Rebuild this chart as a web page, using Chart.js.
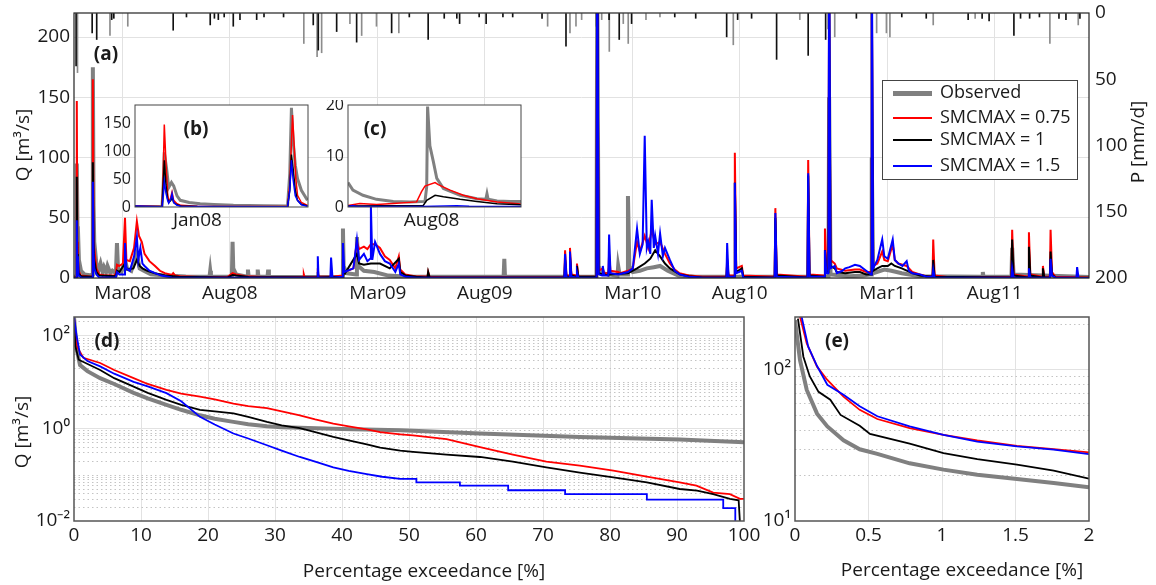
<!DOCTYPE html>
<html>
<head>
<meta charset="utf-8">
<script src="https://cdn.jsdelivr.net/npm/chart.js@4.4.0/dist/chart.umd.min.js"></script>
<style>
    body { margin: 0; width: 1156px; height: 585px; position: relative; overflow: hidden; background: #fff;
           font-family: 'Open Sans', sans-serif; color: #1a1a1a; }
    canvas { position: absolute; }
    .txt { position: absolute; white-space: nowrap; font-size: 19px; transform: translate(-50%, -50%); }
    .rot { transform: translate(-50%, -50%) rotate(-90deg); }
    .tag { font-weight: bold; }
    #legend { position: absolute; left: 882px; top: 80px; width: 194px; height: 98px; border: 1px solid #444; background: #fff; }
    #legend .row { position: absolute; left: 10px; height: 24px; font-size: 18px; line-height: 24px; }
    #legend .swatch { display: inline-block; width: 39px; vertical-align: middle; margin-right: 8px; }
</style>
</head>
<body>
<canvas id="cA" width="1156" height="305" style="left:0;top:0"></canvas>
<canvas id="cB" width="220" height="140" style="left:95px;top:100px"></canvas>
<canvas id="cC" width="225" height="140" style="left:305px;top:100px"></canvas>
<canvas id="cD" width="775" height="280" style="left:0;top:305px"></canvas>
<canvas id="cE" width="401" height="280" style="left:755px;top:305px"></canvas>

<div class="txt rot" style="left:22px;top:145px">Q [m³/s]</div>
<div class="txt rot" style="left:1137px;top:142px">P [mm/d]</div>
<div class="txt rot" style="left:21px;top:432px">Q [m³/s]</div>
<div class="txt" style="left:424px;top:570px">Percentage exceedance [%]</div>
<div class="txt" style="left:962px;top:569px">Percentage exceedance [%]</div>
<div class="txt tag" style="left:106px;top:53px">(a)</div>
<div class="txt tag" style="left:196px;top:128px">(b)</div>
<div class="txt tag" style="left:375px;top:128px">(c)</div>
<div class="txt tag" style="left:107px;top:340px">(d)</div>
<div class="txt tag" style="left:837px;top:340px">(e)</div>

<div id="legend">
    <div class="row" style="top:-2px"><span class="swatch" style="height:5px;background:#808080"></span>Observed</div>
    <div class="row" style="top:23px"><span class="swatch" style="height:2px;background:#ff0000"></span>SMCMAX = 0.75</div>
    <div class="row" style="top:45px"><span class="swatch" style="height:2px;background:#000"></span>SMCMAX = 1</div>
    <div class="row" style="top:71px"><span class="swatch" style="height:2px;background:#0000ff"></span>SMCMAX = 1.5</div>
</div>

<script>
// time axis: days since 1 Jan 2008
const monthTickDays = [60, 213, 425, 578, 790, 943, 1155, 1308];
const monthTickLabels = ['Mar08', 'Aug08', 'Mar09', 'Aug09', 'Mar10', 'Aug10', 'Mar11', 'Aug11'];
const qTicks = [0, 50, 100, 150, 200];
const pTicks = [0, 50, 100, 150, 200];

// (a) discharge [day, m3/s]
const flowObs = [[-10,1],[-7,1],[-6,95],[-5,40],[-4.5,43],[-3,15],[0,6],[5,3],[15,2],[16,3],[17,175],[18,60],[19,30],[22,12],[25,6],[28,12],[31,5],[33,9],[36,5],[38,10],[42,4],[45,6],[50,4],[51.5,29],[53,8],[58,5],[63,15],[66,8],[72,6],[80,20],[84,8],[90,6],[100,3],[120,2],[150,1.2],[184,1],[185,6],[186,1],[216,1],[217,30],[218,8],[222,3],[238,1],[239,7],[240,1],[252,1],[253,7],[254,1],[267,1],[268,7],[269,1],[300,0.8],[374,0.8],[375,41],[376,10],[380,4],[394,3],[395,34],[397,10],[405,6],[420,5],[440,2],[470,1],[605,1],[606,16],[607,1],[738,1],[739,250],[741,10],[745,4],[768,2],[769,10],[771,3],[782,3],[783,68],[785,10],[790,5],[800,6],[810,8],[820,9],[829,10],[840,6],[855,2],[880,1],[1070,1],[1071,150],[1073,3],[1100,1.5],[1120,2],[1131,3],[1132,100],[1134,4],[1150,7],[1160,6],[1175,4],[1200,1.5],[1290,1],[1291,5],[1292,1],[1332,1],[1333,25],[1335,3],[1443,0.8]];
const flow075 = [[-10,0.5],[-7,0.5],[-6,147],[-5.3,30],[-4.8,10],[-4.5,25],[-3.5,6],[0,2],[15,1],[16,1.5],[17,165],[18,40],[19,25],[22,8],[26,3],[35,2],[48,2],[50,4],[51.5,11],[55,10],[60,12],[63,50],[65,15],[70,14],[76,25],[80,47],[83,35],[87,30],[91,20],[98,14],[106,10],[113,6],[120,4],[130,2.5],[132,4],[135,2],[142,1.5],[170,0.8],[210,1],[217,4],[222,3],[235,1.5],[260,0.8],[318,0.8],[319,3],[320,0.8],[338,0.8],[339,8],[340,1],[357,1],[358,3],[360,1],[374,2],[375,15],[377,5],[390,8],[395,30],[398,24],[405,26],[410,24],[415,28],[421,28],[428,25],[435,18],[442,15],[450,8],[455,18],[457,7],[464,3],[478,1.5],[496,1],[497,5],[499,1],[520,0.6],[692,0.6],[693,23],[695,2],[699,2],[700,25],[702,3],[709,2],[710,12],[712,1],[738,1],[739,300],[741,6],[747,8],[749,4],[755,4],[756,20],[758,6],[769,5],[772,4],[783,6],[790,8],[796,30],[800,22],[807,35],[812,25],[817,40],[822,28],[829,30],[836,20],[843,12],[850,7],[857,4],[870,2],[890,1],[924,1],[925,16],[927,2],[935,2],[936,104],[938,8],[946,10],[948,2],[993,1],[994,58],[996,3],[1040,1],[1041,98],[1043,3],[1064,2],[1065,41],[1067,8],[1070,8],[1071,260],[1073,15],[1079,12],[1082,8],[1094,6],[1108,7],[1115,7],[1124,5],[1131,5],[1132,260],[1134,10],[1140,12],[1147,22],[1150,15],[1155,14],[1162,28],[1165,15],[1170,12],[1182,10],[1190,5],[1201,3],[1210,1.5],[1219,1.5],[1220,32],[1222,2],[1240,0.8],[1332,0.8],[1333,40],[1335,3],[1356,1],[1357,38],[1359,3],[1376,1],[1377,10],[1379,1],[1387,1],[1388,40],[1390,5],[1395,1],[1443,0.5]];
const flow100 = [[-10,0.3],[-7,0.3],[-6,84],[-5.3,20],[-4.5,18],[-3.5,4],[0,1.5],[15,1],[16,1],[17,96],[18,30],[19,15],[22,5],[26,2],[50,1.5],[51.5,6],[55,5],[63,12],[66,7],[75,8],[80,15],[84,10],[88,8],[95,6],[106,4],[120,2],[140,1],[210,0.5],[217,2.4],[222,2],[240,0.8],[338,0.5],[339,5],[340,0.5],[374,1],[375,10],[378,4],[395,20],[398,12],[405,11],[415,12],[428,12],[442,8],[455,16],[457,5],[465,2],[480,1],[496,0.5],[497,5],[499,0.5],[692,0.5],[693,15],[695,1],[699,1],[700,18],[702,2],[709,1],[710,10],[712,1],[738,1],[739,300],[741,4],[755,2],[756,10],[758,3],[783,4],[796,8],[807,12],[815,16],[822,23],[829,18],[836,12],[843,8],[857,3],[870,1.5],[890,0.5],[924,0.5],[925,12],[927,1],[935,1],[936,79],[938,5],[946,8],[948,1],[993,0.5],[994,50],[996,2],[1040,0.5],[1041,85],[1043,2],[1064,1],[1065,23],[1067,5],[1070,5],[1071,240],[1073,10],[1079,8],[1082,5],[1094,4],[1108,5],[1115,5],[1124,3],[1131,3],[1132,250],[1134,6],[1140,8],[1147,10],[1155,10],[1160,12],[1165,10],[1175,8],[1190,4],[1201,2],[1219,1],[1220,15],[1222,1],[1332,0.5],[1333,32],[1335,2],[1356,0.5],[1357,26],[1359,2],[1376,0.5],[1377,8],[1379,0.5],[1387,0.5],[1388,22],[1390,3],[1395,0.5],[1443,0.3]];
const flow150 = [[-10,0.1],[-7,0.1],[-6,48],[-5.3,10],[-4.5,18],[-3.5,2],[0,0.5],[16,0.3],[17,80],[18,20],[19,8],[22,3],[26,0.5],[50,0.5],[51.5,5],[55,3],[62,3],[63,29],[65,8],[70,6],[76,18],[80,34],[82,15],[85,25],[88,12],[91,10],[98,6],[106,4],[115,2],[130,0.5],[338,0.2],[339,18],[340,0.3],[357,0.3],[358,17],[360,0.3],[374,1],[375,29],[377,5],[390,8],[395,32],[398,15],[405,20],[410,14],[414,16],[415,60],[417,15],[421,30],[428,20],[435,14],[442,12],[450,5],[455,12],[457,3],[465,1],[480,0.3],[692,0.2],[693,20],[695,0.5],[699,0.5],[700,22],[702,1],[709,0.5],[710,5],[712,0.3],[738,0.3],[739,300],[741,3],[746,2],[747,10],[749,2],[755,2],[756,36],[758,4],[769,3],[783,5],[790,8],[796,41],[800,20],[804,28],[807,118],[810,25],[812,30],[815,20],[817,65],[820,25],[822,35],[826,20],[829,37],[833,18],[836,25],[843,15],[850,6],[857,3],[870,1],[890,0.2],[924,0.2],[925,29],[927,1],[935,1],[936,79],[938,4],[946,6],[948,0.5],[993,0.3],[994,54],[996,1],[1040,0.3],[1041,87],[1043,1],[1064,1],[1065,23],[1067,4],[1070,4],[1071,300],[1073,8],[1079,10],[1082,4],[1090,6],[1094,8],[1100,9],[1108,11],[1115,10],[1124,6],[1131,3],[1132,300],[1134,8],[1140,15],[1147,32],[1150,18],[1155,16],[1162,32],[1165,15],[1170,12],[1176,10],[1182,14],[1185,6],[1190,4],[1201,3],[1210,1],[1219,1],[1220,7],[1222,0.5],[1332,0.3],[1333,8],[1335,0.5],[1356,0.3],[1357,8],[1359,0.5],[1387,0.3],[1388,16],[1390,2],[1395,0.3],[1425,0.2],[1426,9],[1428,0.2],[1443,0.1]];

// (a) precipitation [day, mm/d]
const precipBlack = [[-7,40],[16,15],[22.5,20],[44,5],[47,4],[132,13],[151,3],[185,9],[191,4],[196.6,5],[205,3],[218,10],[227.6,5],[251.5,5],[262,3],[290,3],[332.5,9],[339.7,28],[366,14],[394.6,22],[444.7,15],[470,3],[497,20],[520,4],[538,4],[542,8],[570,3],[580,8],[604,3],[618,3],[660,4],[694.3,25],[737,10],[756,5],[770.5,20],[788.2,8],[850,3],[880,4],[924.3,18],[940,5],[960,4],[995.8,35],[1041,32],[1066,20],[1070,12],[1110,4],[1175,3],[1210,4],[1270,5],[1290,4],[1300,6],[1335.5,17],[1345,4],[1358,4],[1372,3],[1400,4],[1410,5],[1430,4]];
const precipGray = [[-5,45],[41.5,17],[67,10],[319,23],[338,33],[344.5,30],[385,8],[401.8,17],[423,10],[455,15],[668,10],[700,15],[708.6,10],[716.7,5],[745.4,5],[756.3,29],[776.3,8],[783.4,23],[808.8,5],[828.8,3],[933.8,24],[1029,5],[1079,18],[1139,15],[1153,15],[1158,18],[1220,9],[1280,4],[1387,23],[1427.6,9]];

// (b) inset around Jan08
const janObs = [[-11.3,1],[-6.4,1],[-6.2,40],[-6.0,98],[-5.6,70],[-5.2,35],[-4.7,44],[-4.3,38],[-3.7,20],[-3.1,12],[-1.5,8],[0.5,6],[3,4.5],[6.5,3],[12,2.2],[16.3,2],[16.7,60],[17.0,178],[17.3,120],[17.7,75],[18.1,51],[18.8,30],[19.9,12]];
const jan075 = [[-11.3,2],[-6.4,1],[-6.2,60],[-6.0,148],[-5.7,80],[-5.4,25],[-5.2,9],[-4.9,15],[-4.6,27],[-4.3,12],[-3.7,6],[-3,3],[0,1.5],[8,1],[16.3,1],[16.7,40],[17.2,165],[17.5,110],[17.8,50],[18.1,21],[18.8,8],[19.9,3]];
const jan100 = [[-11.3,1],[-6.4,0.5],[-6.2,40],[-6.0,84],[-5.7,40],[-5.4,15],[-5.2,8],[-4.8,12],[-4.6,18],[-4.3,8],[-3.7,4],[-3,2],[0,1],[16.3,0.5],[16.7,30],[17.0,94],[17.3,70],[17.7,30],[18.1,12],[18.8,5],[19.9,2]];
const jan150 = [[-11.3,2],[-6.4,0.5],[-6.2,20],[-6.0,46],[-5.7,25],[-5.4,12],[-5.2,7],[-4.8,15],[-4.6,24],[-4.3,8],[-3.7,3],[-3,1.5],[0,0.8],[16.3,0.5],[16.7,30],[17.0,84],[17.3,50],[17.7,20],[18.1,12],[18.8,4],[19.9,1.5]];

// (c) inset around Aug08
const augObs = [[184,4.8],[185.7,3.3],[189.2,2.3],[193.9,1.5],[199.7,1.1],[205.5,1.0],[210.7,1.1],[211.3,4],[211.6,19.7],[212.4,12],[213.6,8.9],[214.8,5.6],[217.1,3.6],[222.9,2.3],[228.7,1.6],[231.8,1.5],[232.2,2.6],[232.6,1.5],[235.7,1.2],[240.3,1.1],[244,1.1]];
const aug075 = [[184,0.3],[188.1,0.7],[193.9,0.5],[199.7,0.7],[207.8,1.0],[209.5,3.0],[210.7,4.1],[214.2,4.8],[215.3,4.4],[219.4,3.3],[224,2.3],[228.7,1.6],[235.7,1.0],[244,0.6]];
const aug100 = [[184,0.2],[210.1,0.3],[211.3,1.3],[214.2,2.3],[217.1,2.0],[222.9,1.5],[228.7,1.1],[235.7,0.66],[244,0.46]];
const aug150 = [[184,0.1],[185.7,0.3],[186.9,0.1],[210,0.1],[221.7,0.26],[226,0.15],[244,0.1]];

// (d) flow duration curves [% exceedance, m3/s]
const fdcObs = [[0,250],[0.4,50],[0.9,23],[2,17],[3.9,12],[6,9],[8.9,5.8],[11,4.4],[13.8,3.2],[16,2.5],[18.8,1.9],[21,1.6],[23.8,1.37],[26,1.22],[28.8,1.1],[31,1.05],[33.7,1.02],[40,0.96],[48.7,0.91],[60.6,0.77],[75.5,0.65],[90.4,0.57],[100,0.5]];
const fdc075 = [[0,250],[0.4,59],[1.4,33],[3.9,25.5],[6,18],[8.9,12],[11,9],[13.8,6.7],[16,5.6],[18.8,4.8],[21,4.2],[23.8,3.4],[26,3.0],[28.8,2.7],[31,2.3],[33.7,1.9],[36,1.55],[38.7,1.26],[41,1.1],[43.7,0.95],[45.7,0.82],[48.7,0.74],[50.6,0.7],[55.6,0.58],[60.6,0.39],[65.5,0.27],[70.5,0.19],[75.5,0.157],[80.5,0.122],[85.5,0.091],[90.4,0.068],[92.9,0.058],[95.4,0.041],[97.9,0.038],[99.4,0.030],[100,0.030]];
const fdc100 = [[0,250],[0.2,59],[0.7,30],[3.9,18],[6,12],[8.9,7.9],[11,5.8],[13.8,4.1],[16,3.2],[18.8,2.5],[21,2.3],[23.8,2.1],[26,1.75],[28.8,1.37],[31,1.15],[33.7,1.0],[36,0.82],[38.7,0.65],[41,0.55],[43.7,0.45],[45.7,0.38],[48.7,0.33],[50.6,0.31],[55.6,0.27],[60.6,0.24],[65.5,0.19],[70.5,0.144],[75.5,0.11],[80.5,0.087],[85.5,0.068],[90.4,0.049],[93,0.045],[95.4,0.038],[97.9,0.030],[99.2,0.028],[99.4,0.009],[100,0.009]];
const fdc150 = [[0,250],[0.4,96],[0.9,39],[2,28],[3.9,21.5],[6,15],[8.9,10],[11,8],[13.8,5.7],[16,3.8],[18.8,1.76],[21,1.2],[23.8,0.77],[26,0.6],[28.8,0.43],[31,0.33],[33.7,0.24],[36,0.19],[38.7,0.144],[41,0.12],[43.7,0.103],[46,0.09],[48.7,0.081],[51.1,0.081],[51.1,0.068],[57.6,0.068],[57.6,0.058],[64.8,0.058],[64.8,0.046],[73.3,0.046],[73.3,0.038],[85.5,0.038],[85.5,0.029],[96.9,0.029],[96.9,0.019],[98.7,0.019],[98.7,0.009],[100,0.009]];

// (e) high-flow part of the curves
const highObs = [[0,210],[0.034,115],[0.08,73],[0.15,51],[0.22,42],[0.33,34],[0.44,29.7],[0.56,27.7],[0.78,24],[1.01,21.8],[1.24,20.2],[1.51,18.9],[1.76,17.8],[2,16.7]];
const high075 = [[0.034,222],[0.08,148],[0.15,104],[0.22,85],[0.33,66],[0.44,54],[0.56,47],[0.78,41],[1.01,37],[1.24,34],[1.51,31.3],[1.76,29.8],[2,28.3]];
const high100 = [[0.02,216],[0.057,121],[0.1,90],[0.16,71],[0.24,63],[0.31,50],[0.44,42.4],[0.51,37.5],[0.78,32.3],[1.01,28],[1.24,25.6],[1.51,23.5],[1.76,21.5],[2,19]];
const high150 = [[0.045,222],[0.09,141],[0.15,105],[0.22,79],[0.33,68],[0.44,57],[0.56,49],[0.78,42],[1.01,37],[1.24,33.4],[1.51,31],[1.76,29.5],[2,27.6]];

const fdcTicks = [0.01, 1, 100];
const fdcTickLabels = ['10⁻²', '10⁰', '10²'];
const highTicks = [10, 100];
const highTickLabels = ['10¹', '10²'];

const GRAY = '#808080', RED = '#ff0000', BLACK = '#000000', BLUE = '#0000ff';
const GRID = '#e2e2e2';

Chart.defaults.font.family = "'Open Sans', sans-serif";
Chart.defaults.color = '#1a1a1a';
Chart.defaults.animation = false;
Chart.defaults.plugins.legend.display = false;
Chart.defaults.plugins.tooltip.enabled = false;

const pts = a => a.map(([x, y]) => ({x, y}));

function line(data, color, width, extra) {
    return Object.assign({
        type: 'line', data: pts(data), borderColor: color, borderWidth: width,
        pointRadius: 0, tension: 0, fill: false, yAxisID: 'y'
    }, extra || {});
}

// fixed axis sizes so every chart area lands where the reference has it
function fix(w, h) {
    return s => {
        if (w != null) s.width = w;
        if (h != null) s.height = h;
        s.paddingTop = s.paddingBottom = s.paddingLeft = s.paddingRight = 0;
    };
}
const setTicks = vals => s => { s.ticks = vals.map(v => ({value: v})); };

function minorLogValues(lo, hi, skip) {
    const out = [];
    for (let e = Math.floor(Math.log10(lo)); e <= Math.ceil(Math.log10(hi)); e++) {
        for (let m = 1; m <= 9; m++) {
            const v = m * Math.pow(10, e);
            if (v > lo * 1.001 && v < hi && !skip.some(s => Math.abs(s - v) < v * 1e-6)) out.push(v);
        }
    }
    return out;
}

const framePlugin = {
    id: 'frame',
    beforeDraw(chart, args, opts) {
        if (!opts.fill) return;
        const a = chart.chartArea;
        chart.ctx.save();
        chart.ctx.fillStyle = opts.fill;
        chart.ctx.fillRect(a.left, a.top, a.right - a.left, a.bottom - a.top);
        chart.ctx.restore();
    },
    beforeDatasetsDraw(chart, args, opts) {
        if (!opts.minor) return;
        const {ctx, chartArea: a} = chart;
        const s = chart.scales.y;
        ctx.save();
        ctx.strokeStyle = '#c4c4c4';
        ctx.lineWidth = 1;
        ctx.setLineDash([1.5, 3]);
        opts.minor.forEach(v => {
            const y = Math.round(s.getPixelForValue(v)) + 0.5;
            ctx.beginPath();
            ctx.moveTo(a.left, y);
            ctx.lineTo(a.right, y);
            ctx.stroke();
        });
        ctx.restore();
    },
    afterDatasetsDraw(chart, args, opts) {
        const {ctx, chartArea: a} = chart;
        ctx.save();
        ctx.strokeStyle = opts.color || '#333';
        ctx.lineWidth = opts.width || 1;
        ctx.strokeRect(a.left, a.top, a.right - a.left, a.bottom - a.top);
        ctx.restore();
    }
};

function baseOptions(padding, frame) {
    return {
        responsive: false,
        devicePixelRatio: 1,
        layout: {padding: padding},
        plugins: {frame: frame}
    };
}

// (a) main time series with inverted precipitation
const optsA = baseOptions({top: 13, left: 0, right: 0, bottom: 0}, {color: '#222', width: 1.2});
optsA.scales = {
    x: {
        type: 'linear', min: -10, max: 1443, offset: false,
        grid: {offset: false, color: GRID, drawTicks: false}, border: {display: false},
        afterBuildTicks: setTicks(monthTickDays), afterFit: fix(null, 27),
        ticks: {autoSkip: false, maxRotation: 0, padding: 4, font: {size: 19},
                callback: (v, i) => monthTickLabels[i]}
    },
    y: {
        type: 'linear', position: 'left', min: 0, max: 220,
        grid: {color: GRID, drawTicks: false}, border: {display: false},
        afterBuildTicks: setTicks(qTicks), afterFit: fix(74, null),
        ticks: {padding: 4, font: {size: 19}}
    },
    p: {
        type: 'linear', position: 'right', reverse: true, min: 0, max: 200,
        grid: {drawOnChartArea: false, drawTicks: false}, border: {display: false},
        afterBuildTicks: setTicks(pTicks), afterFit: fix(67, null),
        ticks: {padding: 6, font: {size: 19}}
    }
};
new Chart(document.getElementById('cA'), {
    type: 'line',
    data: {
        datasets: [
            line(flow150, BLUE, 2),
            line(flow100, BLACK, 2),
            line(flow075, RED, 2),
            line(flowObs, GRAY, 4),
            {type: 'bar', data: pts(precipBlack), backgroundColor: '#111', barThickness: 1, grouped: false, yAxisID: 'p'},
            {type: 'bar', data: pts(precipGray), backgroundColor: '#8c8c8c', barThickness: 1, grouped: false, yAxisID: 'p'}
        ]
    },
    options: optsA,
    plugins: [framePlugin]
});

// insets (b) and (c)
function insetChart(id, padRight, yWidth, xMin, xMax, xTick, xLabel, yMax, yTicks, sets) {
    const opts = baseOptions({top: 5, left: 0, right: padRight, bottom: 0}, {color: '#444', width: 1, fill: '#fff'});
    opts.scales = {
        x: {
            type: 'linear', min: xMin, max: xMax,
            grid: {display: false, drawTicks: false}, border: {display: false},
            afterBuildTicks: setTicks([xTick]), afterFit: fix(null, 33),
            ticks: {autoSkip: false, maxRotation: 0, padding: 2, font: {size: 19}, callback: () => xLabel}
        },
        y: {
            type: 'linear', min: 0, max: yMax,
            grid: {display: false, drawTicks: false}, border: {display: false},
            afterBuildTicks: setTicks(yTicks), afterFit: fix(yWidth, null),
            ticks: {padding: 4, font: {size: 16}}
        }
    };
    new Chart(document.getElementById(id), {type: 'line', data: {datasets: sets}, options: opts, plugins: [framePlugin]});
}

insetChart('cB', 7, 40, -11.3, 20, 0, 'Jan08', 183, [0, 50, 100, 150], [
    line(jan150, BLUE, 1.5), line(jan100, BLACK, 1.5), line(jan075, RED, 1.5), line(janObs, GRAY, 3)
]);
insetChart('cC', 9, 43, 184, 244, 213, 'Aug08', 20, [0, 10, 20], [
    line(aug150, BLUE, 1.5), line(aug100, BLACK, 1.5), line(aug075, RED, 1.5), line(augObs, GRAY, 3)
]);

// (d) and (e) flow duration curves on log axes
function fdcChart(id, pad, yWidth, xMax, xStep, yMin, yMax, yTicks, yLabels, sets) {
    const frame = {color: '#555', width: 1.5, minor: minorLogValues(yMin, yMax, yTicks)};
    const opts = baseOptions(pad, frame);
    opts.scales = {
        x: {
            type: 'linear', min: 0, max: xMax,
            grid: {color: ctx => (ctx.tick.value > 0 && ctx.tick.value < xMax ? GRID : 'rgba(0,0,0,0)'), drawTicks: false},
            border: {display: false}, afterFit: fix(null, 64),
            ticks: {stepSize: xStep, autoSkip: false, maxRotation: 0, padding: 3, font: {size: 19},
                    callback: v => String(Math.round(v * 100) / 100)}
        },
        y: {
            type: 'logarithmic', min: yMin, max: yMax,
            grid: {color: ctx => (ctx.tick.value > yMin ? GRID : 'rgba(0,0,0,0)'), drawTicks: false},
            border: {display: false},
            afterBuildTicks: setTicks(yTicks), afterFit: fix(yWidth, null),
            ticks: {padding: 4, font: {size: 19}, callback: (v, i) => yLabels[i]}
        }
    };
    new Chart(document.getElementById(id), {type: 'line', data: {datasets: sets}, options: opts, plugins: [framePlugin]});
}

fdcChart('cD', {top: 12, left: 0, right: 31, bottom: 0}, 74, 100, 10, 0.01, 250, fdcTicks, fdcTickLabels, [
    line(fdc150, BLUE, 1.8), line(fdc100, BLACK, 1.8), line(fdc075, RED, 1.8), line(fdcObs, GRAY, 4)
]);
fdcChart('cE', {top: 12, left: 0, right: 67, bottom: 0}, 40, 2, 0.5, 10, 221, highTicks, highTickLabels, [
    line(high150, BLUE, 1.8), line(high100, BLACK, 1.8), line(high075, RED, 1.8), line(highObs, GRAY, 4)
]);
</script>
</body>
</html>
